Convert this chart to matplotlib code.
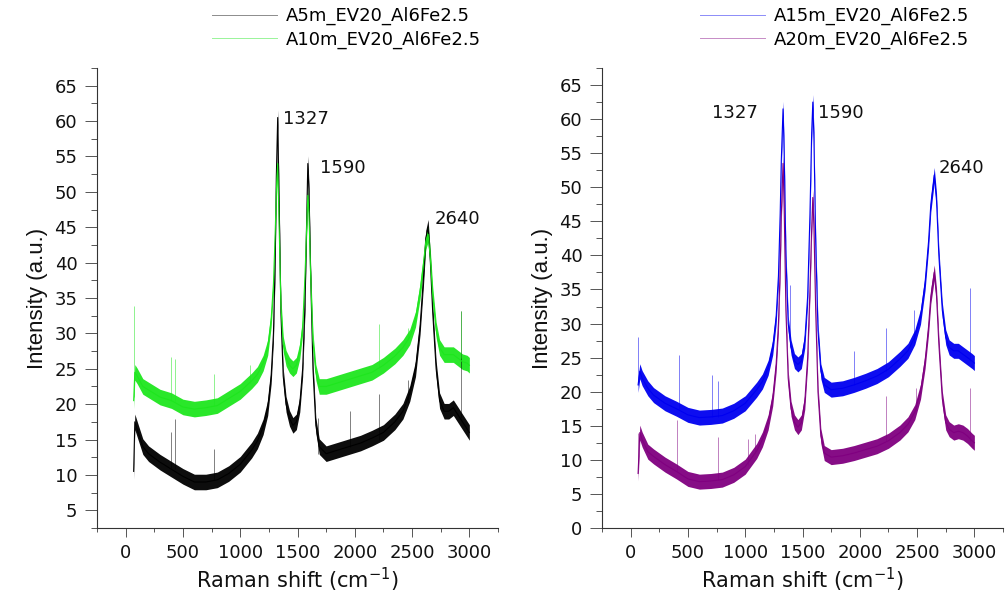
import matplotlib
matplotlib.use("Agg")
import matplotlib.pyplot as plt
from matplotlib.ticker import MultipleLocator
import numpy as np

# ---------------- data ----------------
x_left = [70, 80, 100, 150, 200, 300, 400, 500, 600, 700, 800, 900, 1000, 1100,
          1150, 1200, 1240, 1270, 1290, 1305, 1315, 1327, 1340, 1355, 1375, 1400,
          1430, 1460, 1490, 1520, 1545, 1565, 1580, 1590, 1600, 1615, 1635, 1660,
          1690, 1750, 1850, 1950, 2050, 2150, 2250, 2350, 2420, 2480, 2530, 2570,
          2600, 2620, 2640, 2660, 2680, 2710, 2740, 2780, 2820, 2860, 2900, 2940,
          2980, 3000]
a5m = [10.5, 17.5, 16.5, 14.0, 13.0, 11.8, 10.8, 9.8, 9.0, 9.0, 9.3, 10.2, 11.5, 13.5,
       14.8, 16.8, 19.5, 24.0, 30.0, 40.0, 52.0, 60.5, 48.0, 33.0, 24.0, 20.0,
       18.0, 17.0, 17.5, 20.0, 25.0, 34.0, 46.0, 54.0, 50.0, 38.0, 25.0, 17.0,
       14.0, 13.0, 13.5, 14.0, 14.5, 15.2, 16.0, 17.5, 19.0, 21.5, 25.0, 31.0,
       38.0, 43.5, 45.0, 40.0, 33.0, 25.0, 20.5, 19.0, 19.0, 19.5, 18.5, 17.5,
       16.5, 16.0]
a10m = [20.5, 24.5, 24.0, 22.5, 22.0, 21.0, 20.5, 19.6, 19.3, 19.5, 19.8, 20.8, 21.8, 23.3,
        24.2, 25.8, 28.0, 32.0, 37.0, 44.0, 50.0, 54.0, 45.0, 34.0, 28.5, 26.5,
        25.5, 25.0, 25.5, 27.5, 31.0, 38.0, 45.0, 49.5, 47.0, 38.0, 29.0, 24.5,
        22.5, 22.5, 23.0, 23.5, 24.0, 24.5, 25.5, 26.8, 28.0, 29.5, 32.0, 36.0,
        40.0, 43.0, 44.0, 40.5, 35.5, 30.5, 28.0, 27.0, 27.0, 27.0, 26.5, 26.0,
        25.8, 25.5]

x_right = [65, 80, 100, 150, 200, 300, 400, 500, 600, 700, 800, 900, 1000, 1100,
           1150, 1200, 1240, 1270, 1290, 1305, 1315, 1330, 1340, 1355, 1375, 1400,
           1430, 1460, 1490, 1520, 1545, 1565, 1580, 1590, 1600, 1615, 1635, 1660,
           1690, 1750, 1850, 1950, 2050, 2150, 2250, 2350, 2420, 2480, 2530, 2570,
           2600, 2620, 2650, 2670, 2690, 2720, 2750, 2780, 2820, 2860, 2900, 2940,
           2980, 3000]
a15m = [21.0, 23.0, 22.0, 20.5, 19.5, 18.3, 17.5, 16.6, 16.2, 16.3, 16.5, 17.2, 18.3, 20.3,
        21.5, 23.5, 26.5, 31.0, 37.0, 46.0, 54.0, 61.5, 55.0, 40.0, 30.0, 26.5,
        24.5, 24.0, 24.5, 27.5, 34.0, 46.0, 58.0, 62.5, 57.0, 42.0, 29.0, 23.0,
        21.0, 20.3, 20.5, 21.0, 21.6, 22.3, 23.3, 24.8, 26.0, 28.0, 31.0, 36.0,
        42.0, 47.5, 51.8, 48.0, 40.0, 32.0, 28.0, 26.5, 26.0, 26.0, 25.5, 25.0,
        24.5, 24.2]
a20m = [8.0, 14.0, 13.0, 11.2, 10.5, 9.3, 8.3, 7.2, 6.8, 6.9, 7.1, 7.8, 9.0, 11.3,
        13.0, 15.5, 19.0, 24.0, 30.0, 38.0, 46.0, 53.5, 47.0, 32.0, 22.0, 17.5,
        15.5, 14.8, 15.5, 18.5, 25.0, 35.0, 44.0, 48.5, 44.0, 32.0, 20.0, 13.5,
        11.0, 10.4, 10.6, 11.0, 11.5, 12.0, 12.8, 14.0, 15.2, 17.0, 20.0, 24.5,
        29.5, 34.0, 37.5, 34.0, 27.0, 19.0, 15.5, 14.5, 14.0, 14.2, 14.0, 13.5,
        12.8, 12.5]

# noise band half-width of each spectrum (a.u.)
noise_a5m, noise_a10m, noise_a15m, noise_a20m = 1.1, 1.1, 1.1, 1.1

# narrow spikes: position, bottom, top
spk_a5m_x = [400, 429, 768, 1681, 1957, 2212, 2464, 2928]
spk_a5m_lo = [11.0, 10.8, 9.3, 13.0, 14.0, 15.0, 20.0, 18.0]
spk_a5m_hi = [16.0, 17.9, 13.7, 18.0, 19.1, 21.5, 23.4, 33.2]
spk_a10m_x = [75, 400, 429, 768, 1087, 2212, 2464, 2928]
spk_a10m_lo = [21.0, 20.5, 20.5, 19.8, 23.0, 25.0, 29.0, 26.5]
spk_a10m_hi = [33.9, 26.6, 26.4, 24.3, 25.5, 31.3, 30.8, 33.2]
spk_a15m_x = [65, 421, 708, 766, 1395, 1950, 2228, 2477, 2959]
spk_a15m_lo = [21.0, 17.5, 16.3, 16.3, 26.5, 21.0, 23.0, 27.0, 24.5]
spk_a15m_hi = [28.0, 25.4, 22.4, 21.5, 35.7, 25.9, 29.3, 32.0, 35.2]
spk_a20m_x = [65, 401, 766, 1026, 1085, 2228, 2491, 2959]
spk_a20m_lo = [8.0, 8.3, 7.0, 9.3, 11.0, 12.8, 17.0, 12.8]
spk_a20m_hi = [14.0, 15.9, 13.3, 13.0, 13.8, 19.3, 20.5, 20.5]

labels_left = ["A5m_EV20_Al6Fe2.5", "A10m_EV20_Al6Fe2.5"]
labels_right = ["A15m_EV20_Al6Fe2.5", "A20m_EV20_Al6Fe2.5"]

peak_labels = ["1327", "1590", "2640"]
peak_text_left_x = [1374, 1696, 2696]
peak_text_left_y = [60.3, 53.3, 46.2]
peak_text_right_x = [711, 1632, 2684]
peak_text_right_y = [60.9, 60.9, 52.8]

# ---------------- styling ----------------
plt.rcParams['font.family'] = ['DejaVu Sans']
plt.rcParams['mathtext.default'] = 'regular'
C_BLACK = "#000000"
C_GREEN = "#1ee61e"
C_BLUE = "#0000f0"
C_PURPLE = "#800080"
FS = 13

fig = plt.figure(figsize=(10.05, 5.99), dpi=100)
ax1 = fig.add_axes([97/1005, 1-528/599, 401/1005, 460/599])
ax2 = fig.add_axes([602/1005, 1-528/599, 401/1005, 460/599])


def draw(ax, x, y, noise, sx, slo, shi, color, label):
    x = np.asarray(x, float)
    y = np.asarray(y, float)
    ax.fill_between(x, y - noise, y + noise, color=color, lw=0, alpha=0.95)
    ax.plot(x, y, color=color, lw=0.8)
    ax.vlines(sx, slo, shi, color=color, lw=0.7, alpha=0.5)
    handle, = ax.plot([], [], color=color, lw=0.7, alpha=0.45, label=label)
    return handle


h1 = draw(ax1, x_left, a5m, noise_a5m, spk_a5m_x, spk_a5m_lo, spk_a5m_hi, C_BLACK, labels_left[0])
h2 = draw(ax1, x_left, a10m, noise_a10m, spk_a10m_x, spk_a10m_lo, spk_a10m_hi, C_GREEN, labels_left[1])
h3 = draw(ax2, x_right, a15m, noise_a15m, spk_a15m_x, spk_a15m_lo, spk_a15m_hi, C_BLUE, labels_right[0])
h4 = draw(ax2, x_right, a20m, noise_a20m, spk_a20m_x, spk_a20m_lo, spk_a20m_hi, C_PURPLE, labels_right[1])

for ax, tx, ty in [(ax1, peak_text_left_x, peak_text_left_y),
                   (ax2, peak_text_right_x, peak_text_right_y)]:
    for lab, px, py in zip(peak_labels, tx, ty):
        ax.text(px, py, lab, fontsize=FS, ha='left', va='center', color='#111111')

ax1.set_ylim(2.5, 67.5)
ax2.set_ylim(0, 67.5)
ax1.set_yticks(np.arange(5, 66, 5))
ax2.set_yticks(np.arange(0, 66, 5))
for ax in (ax1, ax2):
    ax.set_xlim(-250, 3250)
    ax.set_xticks(np.arange(0, 3001, 500))
    ax.xaxis.set_minor_locator(MultipleLocator(250))
    ax.yaxis.set_minor_locator(MultipleLocator(2.5))
    for s in ('top', 'right'):
        ax.spines[s].set_visible(False)
    for s in ('left', 'bottom'):
        ax.spines[s].set_linewidth(0.8)
        ax.spines[s].set_color('#333333')
    ax.tick_params(axis='y', which='major', length=8.5, width=0.7, pad=5.5,
                   labelsize=FS, color='#555555', labelcolor='#111111', direction='out')
    ax.tick_params(axis='y', which='minor', length=4.3, width=0.7, color='#555555', direction='out')
    ax.tick_params(axis='x', which='major', length=6.5, width=0.7, pad=5.0,
                   labelsize=FS, color='#555555', labelcolor='#111111', direction='out')
    ax.tick_params(axis='x', which='minor', length=3, width=0.7, color='#555555', direction='out')
    ax.set_xlabel("Raman shift (cm$^{-1}$)", fontsize=15, labelpad=3, color='#111111')
    ax.set_ylabel("Intensity (a.u.)", fontsize=16, color='#111111',
                  family=['Liberation Sans Narrow', 'Liberation Sans'], labelpad=5)
    ax.set_facecolor('white')

fig.legend(handles=[h1, h2], labels=labels_left, loc='upper left',
           bbox_to_anchor=(212/1005, 1-7/599), frameon=False, fontsize=FS,
           handlelength=3.6, handletextpad=0.5, labelspacing=0.3,
           borderpad=0, borderaxespad=0)
fig.legend(handles=[h3, h4], labels=labels_right, loc='upper left',
           bbox_to_anchor=(700/1005, 1-7/599), frameon=False, fontsize=FS,
           handlelength=3.6, handletextpad=0.5, labelspacing=0.3,
           borderpad=0, borderaxespad=0)

fig.savefig("out.png", dpi=100, facecolor='white')
